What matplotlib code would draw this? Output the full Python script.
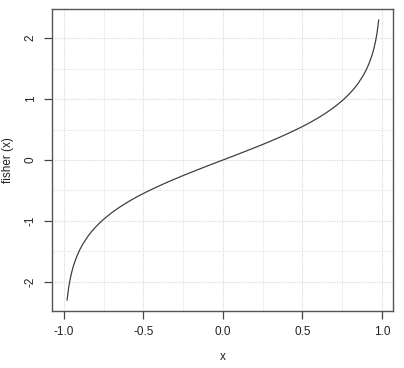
import matplotlib
matplotlib.use("Agg")
import matplotlib.pyplot as plt
from matplotlib.ticker import MultipleLocator

# Values (fisher transform of x)
x_vals = [-0.98, -0.97, -0.96, -0.95, -0.94, -0.92, -0.90, -0.88, -0.85, -0.825, -0.80,
          -0.775, -0.75, -0.70, -0.65, -0.60, -0.55, -0.50, -0.45, -0.40, -0.35, -0.30,
          -0.25, -0.20, -0.15, -0.10, -0.05, 0.0, 0.05, 0.10, 0.15, 0.20, 0.25, 0.30,
          0.35, 0.40, 0.45, 0.50, 0.55, 0.60, 0.65, 0.70, 0.75, 0.775, 0.80, 0.825,
          0.85, 0.88, 0.90, 0.92, 0.94, 0.95, 0.96, 0.97, 0.98]
y_vals = [-2.298, -2.092, -1.946, -1.832, -1.738, -1.589, -1.472, -1.376, -1.256, -1.172, -1.099,
          -1.033, -0.973, -0.867, -0.775, -0.693, -0.618, -0.549, -0.485, -0.424, -0.365, -0.310,
          -0.255, -0.203, -0.151, -0.100, -0.050, 0.0, 0.050, 0.100, 0.151, 0.203, 0.255, 0.310,
          0.365, 0.424, 0.485, 0.549, 0.618, 0.693, 0.775, 0.867, 0.973, 1.033, 1.099, 1.172,
          1.256, 1.376, 1.472, 1.589, 1.738, 1.832, 1.946, 2.092, 2.298]

x_ticks = [-1.0, -0.5, 0.0, 0.5, 1.0]
x_ticklabels = ["-1.0", "-0.5", "0.0", "0.5", "1.0"]
y_ticks = [-2, -1, 0, 1, 2]
y_ticklabels = ["-2", "-1", "0", "1", "2"]

plt.rcParams['font.family'] = ['Liberation Sans', 'DejaVu Sans']

fig = plt.figure(figsize=(4.04, 3.68), dpi=100)
ax = fig.add_axes([52/404, 57/368, (393-52)/404, (311-9)/368])

ax.plot(x_vals, y_vals, color="#404040", linewidth=0.9, zorder=3)

ax.set_xlim(-1.075, 1.07)
ax.set_ylim(-2.48, 2.48)

ax.set_xticks(x_ticks)
ax.set_xticklabels(x_ticklabels)
ax.set_yticks(y_ticks)
ax.set_yticklabels(y_ticklabels, rotation=90, va="center")

ax.xaxis.set_minor_locator(MultipleLocator(0.25))
ax.yaxis.set_minor_locator(MultipleLocator(0.5))
ax.grid(which="major", color="#dadada", linestyle=(0, (1, 1)), linewidth=0.8, zorder=0)
ax.grid(which="minor", color="#f0f0f0", linestyle="-", linewidth=0.8, zorder=0)
ax.tick_params(which="minor", length=0)

ax.tick_params(which="major", direction="out", length=6, width=0.9, color="#444444",
               labelsize=8.5, labelcolor="#222222", pad=5)

for s in ax.spines.values():
    s.set_color("#555555")
    s.set_linewidth(1.0)

ax.set_xlabel("x", fontsize=8.5, color="#222222", labelpad=9)
ax.set_ylabel("fisher (x)", fontsize=8.5, color="#222222", labelpad=8)

fig.savefig("out.png", dpi=100, facecolor="white")
